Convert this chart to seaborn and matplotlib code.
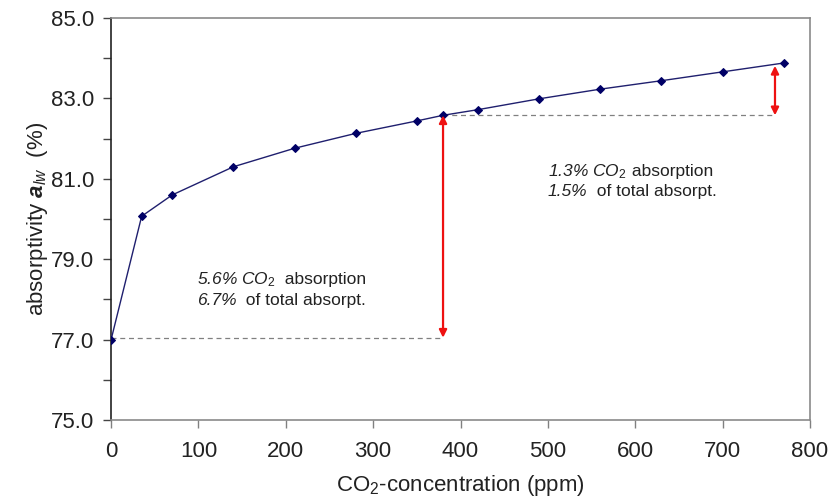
import matplotlib
matplotlib.use("Agg")
import matplotlib.pyplot as plt
import seaborn as sns
import pandas as pd
from matplotlib.ticker import MultipleLocator, FixedLocator, FormatStrFormatter

# CO2 concentration (ppm) and longwave absorptivity (%)
co2_ppm = [0, 35, 70, 140, 210, 280, 350, 380, 420, 490, 560, 630, 700, 770]
absorptivity = [77.0, 80.07, 80.6, 81.3, 81.76, 82.13, 82.44, 82.58, 82.72,
                82.99, 83.23, 83.44, 83.66, 83.88]

# reference levels for the two marked steps
base_level = 77.05
mid_level = 82.58
top_level = 83.86
mid_x = 380
top_x = 760

y_major = [75, 77, 79, 81, 83, 85]
y_minor = [76, 78, 80, 82, 84]

sns.set_theme(style="white")
plt.rcParams["font.family"] = ["Liberation Sans", "DejaVu Sans"]
plt.rcParams["mathtext.fontset"] = "custom"
plt.rcParams["mathtext.rm"] = "Liberation Sans"
plt.rcParams["mathtext.it"] = "Liberation Sans:italic"
plt.rcParams["mathtext.bf"] = "Liberation Sans:bold"
plt.rcParams["mathtext.bfit"] = "Liberation Sans:bold:italic"

df = pd.DataFrame({"ppm": co2_ppm, "a": absorptivity})

fig = plt.figure(figsize=(8.29, 4.99), dpi=100)
ax = fig.add_axes([0.134, 0.158, 0.843, 0.806])

sns.lineplot(data=df, x="ppm", y="a", ax=ax, color="#1f1f6e", linewidth=1.0,
             marker="D", markersize=4, markeredgecolor="#000066",
             markerfacecolor="#000066", zorder=3)

# dashed guides
ax.plot([0, mid_x], [base_level, base_level], ls=(0, (4, 3)), color="#808080", lw=0.9, zorder=2)
ax.plot([mid_x, top_x], [mid_level, mid_level], ls=(0, (4, 3)), color="#808080", lw=0.9, zorder=2)

# double-headed red arrows
arrow_style = dict(arrowstyle="<|-|>,head_length=0.5,head_width=0.25", color="#ee1111", lw=1.6,
                   mutation_scale=9, shrinkA=0, shrinkB=0)
ax.annotate("", xy=(mid_x, mid_level), xytext=(mid_x, base_level), arrowprops=arrow_style)
ax.annotate("", xy=(top_x, top_level - 0.05), xytext=(top_x, mid_level), arrowprops=arrow_style)

ax.set_xlim(0, 800)
ax.set_ylim(75, 85)
ax.xaxis.set_major_locator(MultipleLocator(100))
ax.yaxis.set_major_locator(FixedLocator(y_major))
ax.yaxis.set_minor_locator(FixedLocator(y_minor))
ax.yaxis.set_major_formatter(FormatStrFormatter("%.1f"))


def rich_line(x, y, parts, size=12.5):
    """Draw text pieces of mixed style side by side on a shared baseline."""
    renderer = fig.canvas.get_renderer()
    cur = x
    for s, style in parts:
        t = ax.text(cur, y, s, fontsize=size, style=style, color="#222222", va="baseline")
        bb = t.get_window_extent(renderer)
        cur = ax.transData.inverted().transform((bb.x1, bb.y0))[0]


rich_line(98, 78.38, [("5.6% CO$_2$", "italic"), ("  absorption", "normal")])
rich_line(98, 77.86, [("6.7%", "italic"), ("  of total absorpt.", "normal")])
rich_line(500, 81.07, [("1.3% CO$_2$", "italic"), (" absorption", "normal")])
rich_line(500, 80.57, [("1.5%", "italic"), ("  of total absorpt.", "normal")])

ax.set_xlabel(r"CO$_2$-concentration (ppm)", fontsize=16, color="#222222", labelpad=8)
ax.set_ylabel(r"absorptivity $\mathbfit{a}_{\mathit{lw}}$  (%)", fontsize=16, color="#222222", labelpad=1)

ax.tick_params(axis="both", labelsize=16, labelcolor="#222222")
ax.tick_params(axis="x", which="major", direction="out", length=6, width=1, color="#808080", bottom=True, pad=9)
ax.tick_params(axis="y", which="both", direction="out", length=6, width=1, color="#444444", left=True, pad=6)

for side in ["top", "right", "bottom"]:
    ax.spines[side].set_color("#8a8a8a")
    ax.spines[side].set_linewidth(1.2)
ax.spines["left"].set_color("#222222")
ax.spines["left"].set_linewidth(1.2)

fig.savefig("out.png", dpi=100)
